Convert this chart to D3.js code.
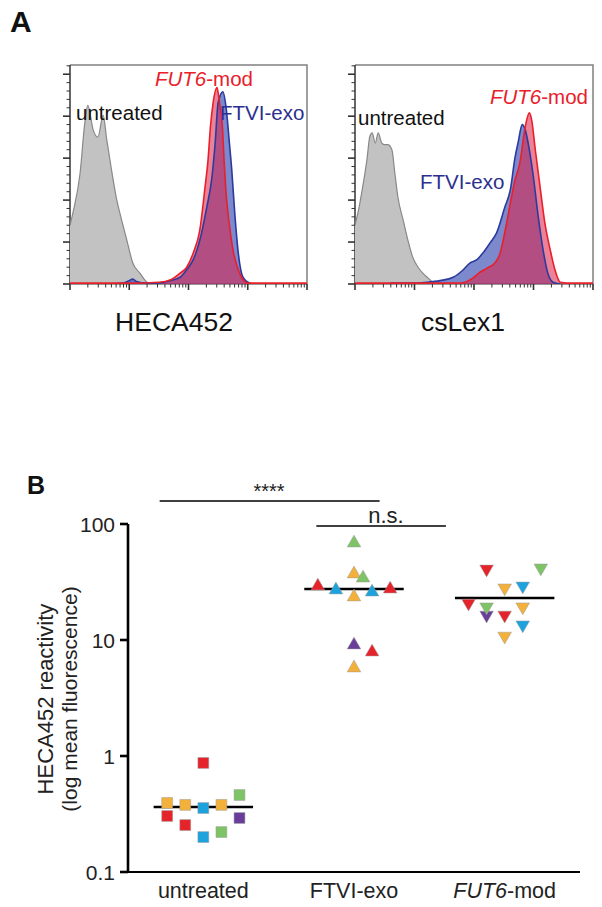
<!DOCTYPE html>
<html><head><meta charset="utf-8">
<script src="https://cdn.jsdelivr.net/npm/d3@7"></script>
<style>body{margin:0;background:#fff}svg{display:block;font-family:Arial,"Liberation Sans",Helvetica,sans-serif}</style>
</head><body><svg id="c" width="602" height="907"></svg>
<script>
// ---------- Panel A data: x = log10 fluorescence (decades 0..4), y = events ----------
const hecaUntreated = [[0,70],[0.02,76],[0.05,85],[0.17,132],[0.25,192],[0.30,213],[0.39,184],[0.47,175],[0.56,201],[0.62,172],[0.71,132],[0.79,100],[0.84,85],[0.96,52],[1.06,25],[1.18,13],[1.30,2],[1.35,0]];
const hecaFTVI = [[0.62,0],[0.9,1],[1.0,4],[1.06,6],[1.12,3],[1.30,1],[1.47,1],[1.69,4],[1.86,8],[1.97,17],[2.08,29],[2.19,52],[2.31,92],[2.39,124],[2.45,168],[2.50,216],[2.58,229],[2.64,207],[2.69,168],[2.73,136],[2.78,85],[2.84,37],[2.92,8],[3.04,1],[3.16,0]];
const hecaFUT6 = [[0,1],[1.0,1],[1.5,2],[1.7,5],[1.86,13],[1.97,20],[2.08,37],[2.19,64],[2.28,116],[2.33,148],[2.37,187],[2.41,213],[2.48,234],[2.50,228],[2.53,213],[2.57,190],[2.60,148],[2.63,112],[2.68,76],[2.75,41],[2.84,17],[2.92,5],[3.00,1],[4,1]];
const lexUntreated = [[0,70],[0.02,76],[0.05,85],[0.13,116],[0.20,148],[0.25,176],[0.29,180],[0.34,168],[0.39,180],[0.45,168],[0.50,166],[0.55,166],[0.62,160],[0.67,132],[0.72,104],[0.81,76],[0.89,52],[0.97,32],[1.06,20],[1.14,13],[1.23,7],[1.31,2],[1.38,0]];
const lexFTVI = [[0.59,1],[0.92,1],[1.21,2],[1.43,4],[1.65,8],[1.82,17],[1.93,25],[2.05,29],[2.15,37],[2.27,49],[2.38,61],[2.52,92],[2.61,112],[2.69,151],[2.74,168],[2.81,190],[2.86,184],[2.91,168],[2.99,132],[3.08,80],[3.16,41],[3.24,13],[3.33,2],[3.45,0]];
const lexFUT6 = [[0,1],[1.0,1],[1.76,1],[1.98,7],[2.10,14],[2.22,19],[2.35,25],[2.44,37],[2.49,52],[2.55,73],[2.62,100],[2.69,124],[2.77,144],[2.86,187],[2.93,204],[2.97,195],[3.03,160],[3.11,116],[3.19,73],[3.28,41],[3.36,17],[3.45,2],[3.56,1],[4,1]];
const histTitles = ["HECA452","csLex1"];

// ---------- Panel B data ----------
const categories = ["untreated","FTVI-exo","FUT6-mod"];
const yTicks = [0.1,1,10,100];
const untreatedValues = [0.394,0.379,0.356,0.379,0.461,0.871,0.304,0.254,0.200,0.221,0.292];
const untreatedDonor  = ["orange","orange","blue","orange","green","red","red","red","blue","green","purple"];
const untreatedSlot   = [-2,-1,0,1,2,0,-2,-1,0,1,2];
const ftviValues = [68.6,37.1,34.2,29.2,27.0,23.5,25.9,27.5,9.06,7.88,5.74];
const ftviDonor  = ["green","orange","green","red","blue","orange","blue","red","purple","red","orange"];
const ftviSlot   = [0,0,0.5,-2,-1,0,1,2,0,1,0];
const fut6Values = [40.9,41.8,28.1,29.2,20.8,16.4,19.3,16.4,19.3,13.5,10.8];
const fut6Donor  = ["red","green","orange","blue","red","purple","green","red","orange","blue","orange"];
const fut6Slot   = [-1,2,0,1,-2,-1,-1,0,1,1,0];
const medians = [0.363,27.5,23.0];
const sigLabels = ["****","n.s."];

const donorColor = {red:"#e5232a",orange:"#f3b13b",blue:"#1ca2dc",green:"#7ec466",purple:"#6a3d9a"};

const svg = d3.select("#c");

// ---------- Panel A ----------
svg.append("text").attr("x",10).attr("y",32).attr("font-size",30).attr("font-weight","bold").attr("fill","#111").text("A");

const histPanels = [
  {x0:70,x1:307,series:[hecaUntreated,hecaFTVI,hecaFUT6],
   labels:[{t:"FUT6",t2:"-mod",x:155,y:86,c:"#e8202a"},{t:"untreated",x:76,y:120,c:"#111"},{t:"FTVI-exo",x:220,y:120,c:"#2b2f8f"}],
   titleX:174},
  {x0:355,x1:593,series:[lexUntreated,lexFTVI,lexFUT6],
   labels:[{t:"FUT6",t2:"-mod",x:490,y:104,c:"#e8202a"},{t:"untreated",x:358,y:125,c:"#111"},{t:"FTVI-exo",x:420,y:189,c:"#2b2f8f"}],
   titleX:463}
];
const hy0 = 65, hy1 = 284;
const fills = ["#c2c2c2","rgba(45,65,175,0.62)","rgba(222,32,72,0.56)"];
const strokes = ["#888888","#2b3a9e","#e8202a"];

histPanels.forEach((p,i)=>{
  const x = d3.scaleLinear().domain([0,4]).range([p.x0,p.x1]);
  const xl = d3.scaleLog().domain([1,1e4]).range([p.x0,p.x1]);
  const y = d3.scaleLinear().domain([0,261]).range([hy1,hy0]);
  const g = svg.append("g");
  const cid = "clip"+i;
  g.append("clipPath").attr("id",cid).append("rect").attr("x",p.x0).attr("y",hy0).attr("width",p.x1-p.x0).attr("height",hy1-hy0);
  const area = d3.area().x(d=>x(d[0])).y0(y(0)).y1(d=>y(d[1])).curve(d3.curveMonotoneX);
  const line = d3.line().x(d=>x(d[0])).y(d=>y(d[1])).curve(d3.curveMonotoneX);
  // frame top/right
  g.append("path").attr("d",`M${p.x0},${hy0}H${p.x1}V${hy1}`).attr("fill","none").attr("stroke","#808080").attr("stroke-width",1.5);
  // left axis with ticks
  const yTickVals = d3.range(0,261,10);
  g.append("line").attr("x1",p.x0).attr("x2",p.x0).attr("y1",hy0).attr("y2",hy1).attr("stroke","#333").attr("stroke-width",1.5);
  g.selectAll(".yt").data(yTickVals).join("line")
    .attr("x1",d=>p.x0-(d%50===0?7:3.5)).attr("x2",p.x0).attr("y1",d=>y(d)).attr("y2",d=>y(d))
    .attr("stroke","#333").attr("stroke-width",d=>d%50===0?1.6:1);
  // bottom axis with log ticks
  const xTickVals = [];
  for(let k=0;k<4;k++) for(let m=1;m<10;m++) xTickVals.push(m*Math.pow(10,k));
  xTickVals.push(1e4);
  g.selectAll(".xt").data(xTickVals).join("line")
    .attr("x1",d=>xl(d)).attr("x2",d=>xl(d)).attr("y1",hy1).attr("y2",d=>hy1+(Math.abs(Math.log10(d)%1)<1e-9?6:3.5))
    .attr("stroke","#333").attr("stroke-width",d=>Math.abs(Math.log10(d)%1)<1e-9?1.6:1);
  g.append("line").attr("x1",p.x0).attr("x2",p.x1).attr("y1",hy1).attr("y2",hy1).attr("stroke","#333").attr("stroke-width",1);
  const cg = g.append("g").attr("clip-path",`url(#${cid})`);
  p.series.forEach((s,k)=>{
    cg.append("path").attr("d",area(s)).attr("fill",fills[k]);
  });
  p.series.forEach((s,k)=>{
    cg.append("path").attr("d",line(s)).attr("fill","none").attr("stroke",strokes[k]).attr("stroke-width",k===0?1.2:1.6);
  });
  // labels
  p.labels.forEach(l=>{
    const t = g.append("text").attr("x",l.x).attr("y",l.y).attr("font-size",20.5).attr("fill",l.c);
    if(l.t2){ t.append("tspan").attr("font-style","italic").text(l.t); t.append("tspan").text(l.t2); }
    else t.text(l.t);
  });
  g.append("text").attr("x",p.titleX).attr("y",331).attr("text-anchor","middle").attr("font-size",26.5).attr("fill","#111").text(histTitles[i]);
});

// ---------- Panel B ----------
svg.append("text").attr("x",27).attr("y",494).attr("font-size",25).attr("font-weight","bold").attr("fill","#111").text("B");

const xB = d3.scaleBand().domain(categories).range([128,580]).padding(0);
const yB = d3.scaleLog().domain([0.1,100]).range([872,524]);
const bw = xB.bandwidth();
const cx = c => xB(c)+bw/2;

// axes
svg.append("line").attr("x1",128).attr("x2",128).attr("y1",yB(100)).attr("y2",yB(0.1)).attr("stroke","#000").attr("stroke-width",2.6);
svg.append("line").attr("x1",128).attr("x2",580).attr("y1",yB(0.1)).attr("y2",yB(0.1)).attr("stroke","#000").attr("stroke-width",2);
svg.selectAll(".ytB").data(yTicks).join("line")
  .attr("x1",120).attr("x2",128).attr("y1",d=>yB(d)).attr("y2",d=>yB(d)).attr("stroke","#000").attr("stroke-width",2.6);
svg.selectAll(".ylB").data(yTicks).join("text")
  .attr("x",115).attr("y",d=>yB(d)+7.5).attr("text-anchor","end").attr("font-size",21).attr("fill","#222")
  .text(d=>d3.format("~g")(d));
// category labels
categories.forEach(c=>{
  const t = svg.append("text").attr("x",cx(c)).attr("y",898).attr("text-anchor","middle").attr("font-size",21.5).attr("fill","#222");
  if(c==="FUT6-mod"){ t.append("tspan").attr("font-style","italic").text("FUT6"); t.append("tspan").text("-mod"); }
  else t.text(c);
});
// y title
const yt = svg.append("g").attr("transform","translate(0,699) rotate(-90)");
yt.append("text").attr("x",0).attr("y",53).attr("text-anchor","middle").attr("font-size",22).attr("fill","#222").text("HECA452 reactivity");
yt.append("text").attr("x",0).attr("y",77).attr("text-anchor","middle").attr("font-size",21).attr("fill","#222").text("(log mean fluorescence)");

// medians
svg.selectAll(".med").data(medians).join("line")
  .attr("x1",(d,i)=>cx(categories[i])-bw*0.33).attr("x2",(d,i)=>cx(categories[i])+bw*0.33)
  .attr("y1",d=>yB(d)).attr("y2",d=>yB(d)).attr("stroke","#000").attr("stroke-width",2.6);

// points
const slotW = bw*0.12;
const groups = [
  {c:categories[0],v:untreatedValues,col:untreatedDonor,s:untreatedSlot,sym:d3.symbolSquare,size:118,rot:0},
  {c:categories[1],v:ftviValues,col:ftviDonor,s:ftviSlot,sym:d3.symbolTriangle,size:80,rot:0},
  {c:categories[2],v:fut6Values,col:fut6Donor,s:fut6Slot,sym:d3.symbolTriangle,size:80,rot:180}
];
groups.forEach(gr=>{
  const pts = gr.v.map((v,i)=>({v,col:gr.col[i],s:gr.s[i]}));
  svg.selectAll(null).data(pts).join("path")
    .attr("d",d3.symbol().type(gr.sym).size(gr.size)())
    .attr("transform",d=>`translate(${cx(gr.c)+d.s*slotW},${yB(d.v)}) rotate(${gr.rot})`)
    .attr("fill",d=>donorColor[d.col]).attr("stroke","#9a9a9a").attr("stroke-width",0.5);
});

// significance bars
const sig = [
  {x1:cx(categories[0])-bw*0.29,x2:cx(categories[1])+bw*0.17,y:501,ty:498,label:sigLabels[0],fs:20},
  {x1:cx(categories[1])-bw*0.25,x2:cx(categories[2])-bw*0.39,y:526,ty:523,label:sigLabels[1],fs:22}
];
sig.forEach(s=>{
  svg.append("line").attr("x1",s.x1).attr("x2",s.x2).attr("y1",s.y).attr("y2",s.y).attr("stroke","#000").attr("stroke-width",1.3);
});
svg.append("text").attr("x",269).attr("y",sig[0].ty).attr("text-anchor","middle").attr("font-size",sig[0].fs).attr("fill","#222").text(sig[0].label);
svg.append("text").attr("x",386).attr("y",sig[1].ty).attr("text-anchor","middle").attr("font-size",sig[1].fs).attr("fill","#222").text(sig[1].label);
</script></body></html>
